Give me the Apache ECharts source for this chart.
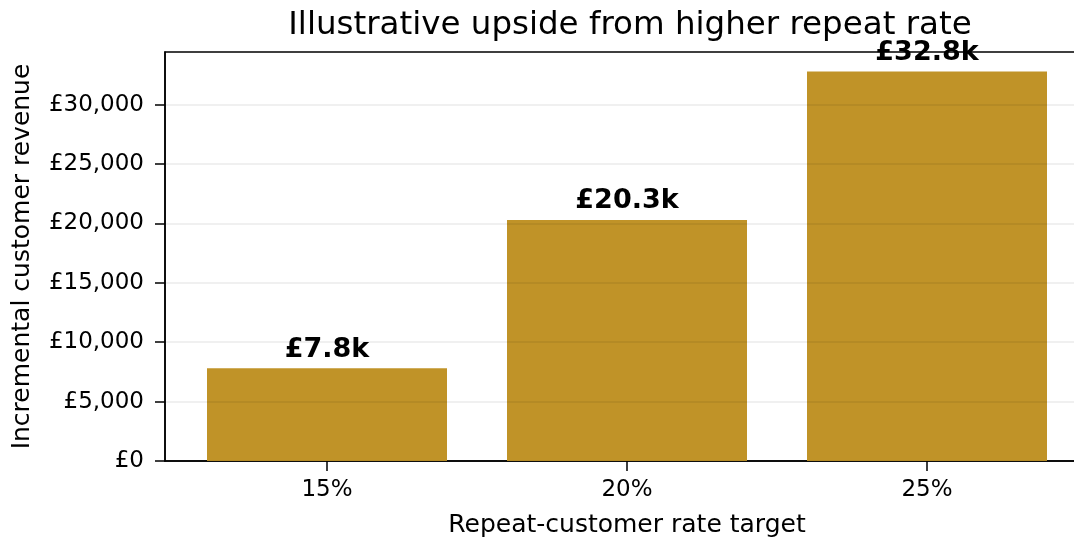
<!DOCTYPE html>
<html>
<head>
<meta charset="utf-8">
<script src="https://cdn.jsdelivr.net/npm/echarts@6/dist/echarts.min.js"></script>
<style>html,body{margin:0;padding:0;background:#fff}#c{width:1074px;height:538px}</style>
</head>
<body>
<div id="c"></div>
<script>
const categories = ['15%', '20%', '25%'];
const values = [7800, 20300, 32800];
const labels = ['£7.8k', '£20.3k', '£32.8k'];
const yTickStep = 5000;

const chart = echarts.init(document.getElementById('c'), null, {renderer: 'canvas'});
const F = 'DejaVu Sans';
chart.setOption({
  animation: false,
  backgroundColor: '#fff',
  title: {
    text: 'Illustrative upside from higher repeat rate',
    left: 625, top: 4, textAlign: 'center',
    textStyle: {fontFamily: F, fontSize: 32.5, fontWeight: 'normal', color: '#000'}
  },
  grid: {left: 165, width: 924, top: 52, height: 409, outerBoundsMode: 'none', containLabel: false,
         show: true, borderColor: '#000', borderWidth: 1.5, backgroundColor: 'transparent'},
  xAxis: {
    type: 'value', min: -0.54, max: 2.54,
    splitLine: {show: false},
    axisLine: {show: true, onZero: false, lineStyle: {color: '#000', width: 1.5}},
    axisTick: {show: true, customValues: [0, 1, 2], length: 10, lineStyle: {color: '#000', width: 1.5}},
    axisLabel: {customValues: [0, 1, 2], formatter: v => categories[Math.round(v)], fontFamily: F, fontSize: 23, color: '#000', margin: 18},
    name: 'Repeat-customer rate target', nameLocation: 'middle', nameGap: 52,
    nameTextStyle: {fontFamily: F, fontSize: 25, color: '#000'}
  },
  yAxis: {
    type: 'value', min: 0, max: 34440, interval: yTickStep, z: 5,
    axisLine: {show: true, onZero: false, lineStyle: {color: '#000', width: 1.5}},
    axisTick: {show: true, length: 10, lineStyle: {color: '#000', width: 1.5}},
    axisLabel: {showMaxLabel: false, formatter: v => '£' + v.toLocaleString('en-GB'), fontFamily: F, fontSize: 23, color: '#000', margin: 21},
    splitLine: {show: true, showMaxLine: false, lineStyle: {color: 'rgba(0,0,0,0.08)', width: 1.5}},
    name: 'Incremental customer revenue', nameLocation: 'middle', nameGap: 130,
    nameTextStyle: {fontFamily: F, fontSize: 25, color: '#000'}
  },
  series: [{
    type: 'bar',
    barWidth: 240,
    data: values.map((v, i) => [i, v]),
    itemStyle: {color: '#C09328'},
    label: {
      show: true, position: 'top', distance: 5,
      formatter: p => labels[p.dataIndex],
      fontFamily: F, fontSize: 27, fontWeight: 'bold', color: '#000'
    }
  }]
});
</script>
</body>
</html>
